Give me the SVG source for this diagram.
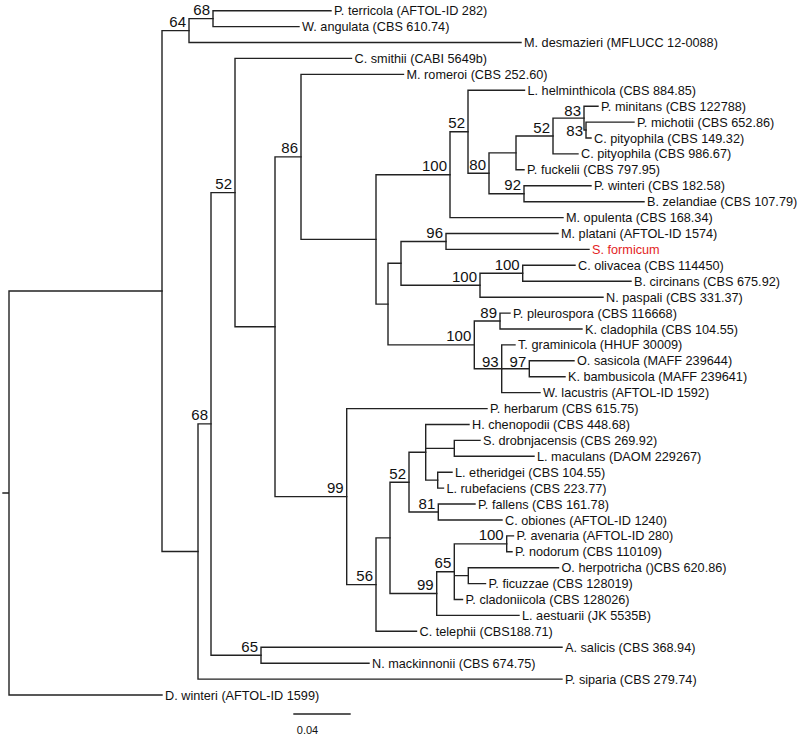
<svg xmlns="http://www.w3.org/2000/svg" width="800" height="737" viewBox="0 0 800 737">
<style>
.br{fill:none;stroke:#222;stroke-width:1.4;stroke-linecap:square}
.lf{font-family:"Liberation Sans",Arial,sans-serif;font-size:12.7px;fill:#111}
.sp{font-family:"Liberation Sans",Arial,sans-serif;font-size:15px;fill:#111;text-anchor:end}
.red{fill:#e31e24}
</style>
<rect width="800" height="737" fill="#fff"/>
<g id="connectors" class="br">
<path d="M3,493H9M9,291.05V695M9,291.05H162M9,695H162"/>
<path d="M162,30.6V551.5M162,30.6H189M162,551.5H198"/>
<path d="M189,18.65V42.5M189,18.65H213M189,42.5H521"/>
<path d="M213,10.7V26.6M213,10.7H331M213,26.6H299"/>
<path d="M198,423.9V679.1M198,423.9H211M198,679.1H562"/>
<path d="M211,192.6V655.25M211,192.6H235M211,655.25H261"/>
<path d="M261,647.3V663.2M261,647.3H562M261,663.2H369"/>
<path d="M235,58.4V326.75M235,58.4H351.5M235,326.75H275"/>
<path d="M275,156.9V496.6M275,156.9H301M275,496.6H346.7"/>
<path d="M301,74.4V239.4M301,74.4H403.5M301,239.4H376"/>
<path d="M376,174.7V304.1M376,174.7H450M376,304.1H388"/>
<path d="M450,131.8V217.6M450,131.8H468M450,217.6H563"/>
<path d="M468,90.3V173.3M468,90.3H524.5M468,173.3H489"/>
<path d="M489,152.9V193.75M489,152.9H516M489,193.75H524"/>
<path d="M516,136V169.8M516,136H553M516,169.8H524"/>
<path d="M553,118.1V153.9M553,118.1H584M553,153.9H578"/>
<path d="M584,106.2V130.05M584,106.2H598M584,130.05H586"/>
<path d="M586,122.1V138M586,122.1H634M586,138H591"/>
<path d="M524,185.8V201.7M524,185.8H591M524,201.7H644"/>
<path d="M388,263.3V344.9M388,263.3H401M388,344.9H474.3"/>
<path d="M401,241.45V285.2M401,241.45H446M401,285.2H480"/>
<path d="M446,233.5V249.4M446,233.5H558M446,249.4H589"/>
<path d="M480,273.25V297.2M480,273.25H522.7M480,297.2H603"/>
<path d="M522.7,265.3V281.2M522.7,265.3H575M522.7,281.2H631"/>
<path d="M474.3,321.05V368.75M474.3,321.05H500M474.3,368.75H501.7"/>
<path d="M500,313.1V329M500,313.1H510M500,329H582"/>
<path d="M501.7,344.9V392.6M501.7,344.9H515M501.7,368.75H529.3M501.7,392.6H540"/>
<path d="M529.3,360.8V376.7M529.3,360.8H574M529.3,376.7H565"/>
<path d="M346.7,408.6V584.6M346.7,408.6H487M346.7,584.6H376"/>
<path d="M376,537.9V631.3M376,537.9H390M376,631.3H416.5"/>
<path d="M390,482.2V593.5M390,482.2H409M390,593.5H436.7"/>
<path d="M409,452.3V512M409,452.3H425.7M409,512H438.3"/>
<path d="M425.7,424.5V480.15M425.7,424.5H469M425.7,448.35H454.3M425.7,480.15H437.7"/>
<path d="M454.3,440.4V456.3M454.3,440.4H480M454.3,456.3H534"/>
<path d="M437.7,472.2V488.1M437.7,472.2H452M437.7,488.1H443.5"/>
<path d="M438.3,504V520M438.3,504H475M438.3,520H502"/>
<path d="M436.7,571.7V615.4M436.7,571.7H454.3M436.7,615.4H519"/>
<path d="M454.3,543.85V599.5M454.3,543.85H506.7M454.3,575.65H468.3M454.3,599.5H462.5"/>
<path d="M506.7,535.9V551.8M506.7,535.9H513.5M506.7,551.8H512"/>
<path d="M468.3,567.7V583.6M468.3,567.7H558.5M468.3,583.6H485.5"/>
<path d="M294,714H350"/>
</g>
<g id="taxa" class="lf">
<g id="t0"><text x="334" y="15.2">P. terricola (AFTOL-ID 282)</text></g>
<g id="t1"><text x="302" y="31.1">W. angulata (CBS 610.74)</text></g>
<g id="t2"><text x="524" y="47">M. desmazieri (MFLUCC 12-0088)</text></g>
<g id="t3"><text x="354.5" y="62.9">C. smithii (CABI 5649b)</text></g>
<g id="t4"><text x="406.5" y="78.9">M. romeroi (CBS 252.60)</text></g>
<g id="t5"><text x="527.5" y="94.8">L. helminthicola (CBS 884.85)</text></g>
<g id="t6"><text x="601" y="110.7">P. minitans (CBS 122788)</text></g>
<g id="t7"><text x="637" y="126.6">P. michotii (CBS 652.86)</text></g>
<g id="t8"><text x="594" y="142.5">C. pityophila (CBS 149.32)</text></g>
<g id="t9"><text x="581" y="158.4">C. pityophila (CBS 986.67)</text></g>
<g id="t10"><text x="527" y="174.3">P. fuckelii (CBS 797.95)</text></g>
<g id="t11"><text x="594" y="190.3">P. winteri (CBS 182.58)</text></g>
<g id="t12"><text x="647" y="206.2">B. zelandiae (CBS 107.79)</text></g>
<g id="t13"><text x="566" y="222.1">M. opulenta (CBS 168.34)</text></g>
<g id="t14"><text x="561" y="238">M. platani (AFTOL-ID 1574)</text></g>
<g id="t15"><text x="592" y="253.9" class="red">S. formicum</text></g>
<g id="t16"><text x="578" y="269.8">C. olivacea (CBS 114450)</text></g>
<g id="t17"><text x="634" y="285.7">B. circinans (CBS 675.92)</text></g>
<g id="t18"><text x="606" y="301.7">N. paspali (CBS 331.37)</text></g>
<g id="t19"><text x="513" y="317.6">P. pleurospora (CBS 116668)</text></g>
<g id="t20"><text x="585" y="333.5">K. cladophila (CBS 104.55)</text></g>
<g id="t21"><text x="518" y="349.4">T. graminicola (HHUF 30009)</text></g>
<g id="t22"><text x="577" y="365.3">O. sasicola (MAFF 239644)</text></g>
<g id="t23"><text x="568" y="381.2">K. bambusicola (MAFF 239641)</text></g>
<g id="t24"><text x="543" y="397.1">W. lacustris (AFTOL-ID 1592)</text></g>
<g id="t25"><text x="490" y="413.1">P. herbarum (CBS 615.75)</text></g>
<g id="t26"><text x="472" y="429">H. chenopodii (CBS 448.68)</text></g>
<g id="t27"><text x="483" y="444.9">S. drobnjacensis (CBS 269.92)</text></g>
<g id="t28"><text x="537" y="460.8">L. maculans (DAOM 229267)</text></g>
<g id="t29"><text x="455" y="476.7">L. etheridgei (CBS 104.55)</text></g>
<g id="t30"><text x="446.5" y="492.6">L. rubefaciens (CBS 223.77)</text></g>
<g id="t31"><text x="478" y="508.5">P. fallens (CBS 161.78)</text></g>
<g id="t32"><text x="505" y="524.5">C. obiones (AFTOL-ID 1240)</text></g>
<g id="t33"><text x="516.5" y="540.4">P. avenaria (AFTOL-ID 280)</text></g>
<g id="t34"><text x="515" y="556.3">P. nodorum (CBS 110109)</text></g>
<g id="t35"><text x="561.5" y="572.2">O. herpotricha ()CBS 620.86)</text></g>
<g id="t36"><text x="488.5" y="588.1">P. ficuzzae (CBS 128019)</text></g>
<g id="t37"><text x="465.5" y="604">P. cladoniicola (CBS 128026)</text></g>
<g id="t38"><text x="522" y="619.9">L. aestuarii (JK 5535B)</text></g>
<g id="t39"><text x="419.5" y="635.8">C. telephii (CBS188.71)</text></g>
<g id="t40"><text x="565" y="651.8">A. salicis (CBS 368.94)</text></g>
<g id="t41"><text x="372" y="667.7">N. mackinnonii (CBS 674.75)</text></g>
<g id="t42"><text x="565" y="683.6">P. siparia (CBS 279.74)</text></g>
<g id="t43"><text x="165" y="699.5">D. winteri (AFTOL-ID 1599)</text></g>
</g>
<g id="support" class="sp">
<g id="s64"><text x="186" y="27">64</text></g>
<g id="s68a"><text x="210" y="15">68</text></g>
<g id="s68b"><text x="208" y="420.4">68</text></g>
<g id="s65a"><text x="258" y="652">65</text></g>
<g id="s52a"><text x="232" y="189">52</text></g>
<g id="s86"><text x="298" y="153.4">86</text></g>
<g id="s100a"><text x="447" y="171.2">100</text></g>
<g id="s52b"><text x="465" y="128.3">52</text></g>
<g id="s80"><text x="486" y="169.8">80</text></g>
<g id="s52c"><text x="550" y="132.5">52</text></g>
<g id="s83a"><text x="581" y="115.5">83</text></g>
<g id="s83b"><text x="583" y="135.5">83</text></g>
<g id="s92"><text x="521" y="190.2">92</text></g>
<g id="s96"><text x="443" y="238">96</text></g>
<g id="s100b"><text x="477" y="281.7">100</text></g>
<g id="s100c"><text x="519.7" y="269.7">100</text></g>
<g id="s100d"><text x="471.3" y="341.4">100</text></g>
<g id="s89"><text x="497" y="317.5">89</text></g>
<g id="s93"><text x="498.7" y="366.5">93</text></g>
<g id="s97"><text x="526.3" y="366.5">97</text></g>
<g id="s99a"><text x="343.7" y="493.1">99</text></g>
<g id="s56"><text x="373" y="581">56</text></g>
<g id="s52d"><text x="406" y="478.7">52</text></g>
<g id="s81"><text x="435.3" y="508.5">81</text></g>
<g id="s99b"><text x="433.7" y="590">99</text></g>
<g id="s65b"><text x="451.3" y="568.2">65</text></g>
<g id="s100e"><text x="503.7" y="540.3">100</text></g>
</g>
<g id="scale"><text x="307.5" y="734" font-family="Liberation Sans, Arial, sans-serif" font-size="11" text-anchor="middle" fill="#111">0.04</text></g>
</svg>
